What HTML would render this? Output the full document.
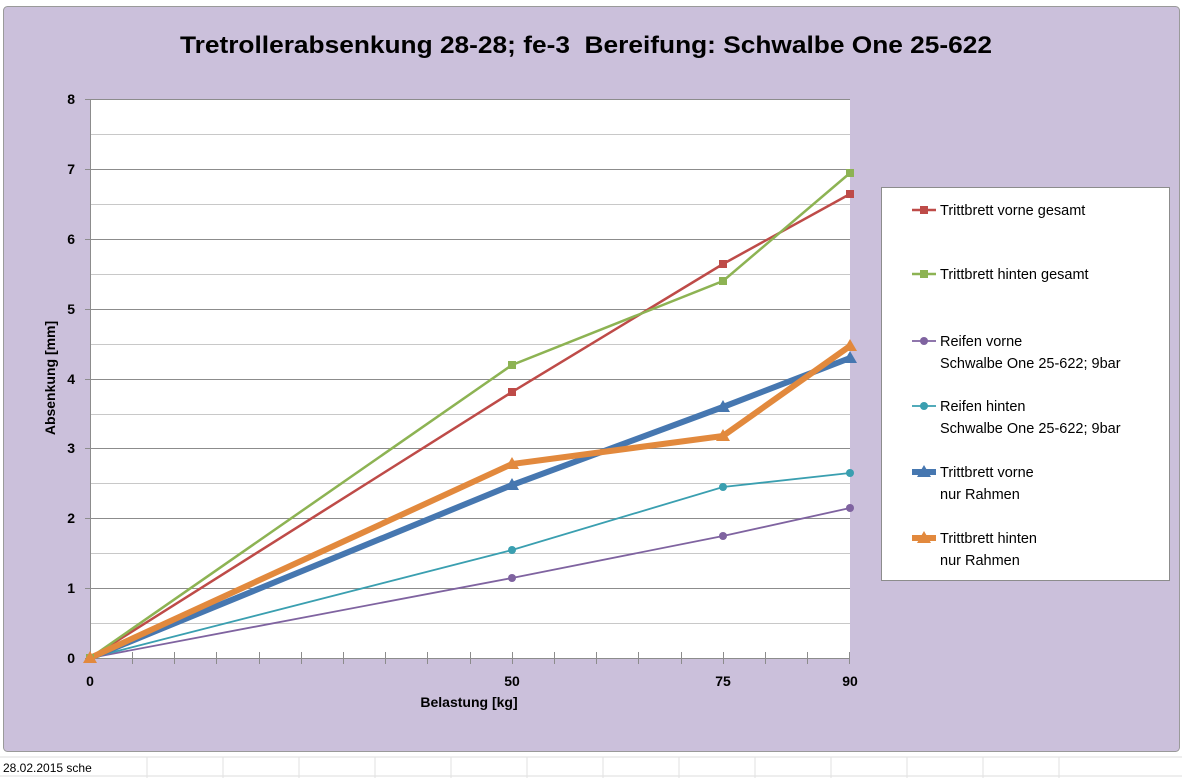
<!DOCTYPE html>
<html><head><meta charset="utf-8"><style>
body{margin:0;width:1182px;height:778px;background:#fff;overflow:hidden;font-family:"Liberation Sans",sans-serif}
</style></head><body>
<svg width="1182" height="778" xmlns="http://www.w3.org/2000/svg" font-family="Liberation Sans, sans-serif">
<rect x="0" y="0" width="1182" height="778" fill="#fff"/>
<line x1="0" y1="757" x2="1182" y2="757" stroke="#ddd"/>
<line x1="0" y1="776" x2="1182" y2="776" stroke="#ddd"/>
<g stroke="#e2e2e2"><line x1="147" y1="757" x2="147" y2="778"/><line x1="223" y1="757" x2="223" y2="778"/><line x1="299" y1="757" x2="299" y2="778"/><line x1="375" y1="757" x2="375" y2="778"/><line x1="451" y1="757" x2="451" y2="778"/><line x1="527" y1="757" x2="527" y2="778"/><line x1="603" y1="757" x2="603" y2="778"/><line x1="679" y1="757" x2="679" y2="778"/><line x1="755" y1="757" x2="755" y2="778"/><line x1="831" y1="757" x2="831" y2="778"/><line x1="907" y1="757" x2="907" y2="778"/><line x1="983" y1="757" x2="983" y2="778"/><line x1="1059" y1="757" x2="1059" y2="778"/></g>
<text x="3" y="772" font-size="12" fill="#000">28.02.2015 sche</text>
<rect x="3.5" y="6.5" width="1176" height="745" rx="4" fill="#cbc0db" stroke="#9a9a9a"/>
<text x="180" y="53" font-size="24" font-weight="bold" fill="#000" textLength="812" lengthAdjust="spacingAndGlyphs">Tretrollerabsenkung 28-28; fe-3&#160; Bereifung: Schwalbe One 25-622</text>
<rect x="90" y="99" width="760" height="559" fill="#fff"/>
<g stroke="#8c8c8c" stroke-width="1">
<line x1="90" y1="99.5" x2="850" y2="99.5"/><line x1="90" y1="169.5" x2="850" y2="169.5"/><line x1="90" y1="239.5" x2="850" y2="239.5"/><line x1="90" y1="309.5" x2="850" y2="309.5"/><line x1="90" y1="379.5" x2="850" y2="379.5"/><line x1="90" y1="448.5" x2="850" y2="448.5"/><line x1="90" y1="518.5" x2="850" y2="518.5"/><line x1="90" y1="588.5" x2="850" y2="588.5"/>
</g>
<g stroke="#c8c8c8"><line x1="90" y1="134.5" x2="850" y2="134.5"/><line x1="90" y1="204.5" x2="850" y2="204.5"/><line x1="90" y1="274.5" x2="850" y2="274.5"/><line x1="90" y1="344.5" x2="850" y2="344.5"/><line x1="90" y1="414.5" x2="850" y2="414.5"/><line x1="90" y1="483.5" x2="850" y2="483.5"/><line x1="90" y1="553.5" x2="850" y2="553.5"/><line x1="90" y1="623.5" x2="850" y2="623.5"/></g>
<g stroke="#8c8c8c">
<line x1="90.5" y1="99" x2="90.5" y2="658"/><line x1="90" y1="658.5" x2="850" y2="658.5"/>
<line x1="85" y1="99.5" x2="90" y2="99.5"/><line x1="85" y1="169.5" x2="90" y2="169.5"/><line x1="85" y1="239.5" x2="90" y2="239.5"/><line x1="85" y1="309.5" x2="90" y2="309.5"/><line x1="85" y1="379.5" x2="90" y2="379.5"/><line x1="85" y1="448.5" x2="90" y2="448.5"/><line x1="85" y1="518.5" x2="90" y2="518.5"/><line x1="85" y1="588.5" x2="90" y2="588.5"/><line x1="85" y1="658.5" x2="90" y2="658.5"/>
<line x1="132.5" y1="652" x2="132.5" y2="664"/><line x1="174.5" y1="652" x2="174.5" y2="664"/><line x1="216.5" y1="652" x2="216.5" y2="664"/><line x1="259.5" y1="652" x2="259.5" y2="664"/><line x1="301.5" y1="652" x2="301.5" y2="664"/><line x1="343.5" y1="652" x2="343.5" y2="664"/><line x1="385.5" y1="652" x2="385.5" y2="664"/><line x1="427.5" y1="652" x2="427.5" y2="664"/><line x1="470.5" y1="652" x2="470.5" y2="664"/><line x1="512.5" y1="652" x2="512.5" y2="664"/><line x1="554.5" y1="652" x2="554.5" y2="664"/><line x1="596.5" y1="652" x2="596.5" y2="664"/><line x1="638.5" y1="652" x2="638.5" y2="664"/><line x1="681.5" y1="652" x2="681.5" y2="664"/><line x1="723.5" y1="652" x2="723.5" y2="664"/><line x1="765.5" y1="652" x2="765.5" y2="664"/><line x1="807.5" y1="652" x2="807.5" y2="664"/><line x1="849.5" y1="652" x2="849.5" y2="664"/>
</g>
<g font-size="14" font-weight="bold" text-anchor="end" fill="#000">
<text x="75" y="104">8</text><text x="75" y="174">7</text><text x="75" y="244">6</text><text x="75" y="314">5</text><text x="75" y="384">4</text><text x="75" y="453">3</text><text x="75" y="523">2</text><text x="75" y="593">1</text><text x="75" y="663">0</text>
</g>
<g font-size="14" font-weight="bold" text-anchor="middle" fill="#000">
<text x="90" y="686">0</text><text x="512" y="686">50</text><text x="723" y="686">75</text><text x="850" y="686">90</text>
<text x="469" y="707">Belastung [kg]</text>
<text transform="translate(55,378) rotate(-90)">Absenkung [mm]</text>
</g>
<polyline points="90,658 512,392 723,264 850,194" fill="none" stroke="#be4b48" stroke-width="2.5"/>
<polyline points="90,658 512,365 723,281 850,173" fill="none" stroke="#8db353" stroke-width="2.5"/>
<polyline points="90,658 512,578 723,536 850,508" fill="none" stroke="#7f63a0" stroke-width="1.8"/>
<polyline points="90,658 512,550 723,487 850,473" fill="none" stroke="#3a9fb0" stroke-width="1.8"/>
<polyline points="90,658 512,485 723,407 850,358" fill="none" stroke="#4677b0" stroke-width="6"/>
<polyline points="90,658 512,464 723,436 850,346" fill="none" stroke="#e2893d" stroke-width="6"/>
<g fill="#be4b48"><rect x="86" y="654" width="8" height="8"/><rect x="508" y="388" width="8" height="8"/><rect x="719" y="260" width="8" height="8"/><rect x="846" y="190" width="8" height="8"/></g>
<g fill="#8db353"><rect x="86" y="654" width="8" height="8"/><rect x="508" y="361" width="8" height="8"/><rect x="719" y="277" width="8" height="8"/><rect x="846" y="169" width="8" height="8"/></g>
<g fill="#7f63a0"><circle cx="512" cy="578" r="4"/><circle cx="723" cy="536" r="4"/><circle cx="850" cy="508" r="4"/></g>
<g fill="#3a9fb0"><circle cx="512" cy="550" r="4"/><circle cx="723" cy="487" r="4"/><circle cx="850" cy="473" r="4"/></g>
<g fill="#4677b0"><path d="M512,478 l7,12 h-14z"/><path d="M723,400 l7,12 h-14z"/><path d="M850,351 l7,12 h-14z"/></g>
<g fill="#e2893d"><path d="M90,651 l7,12 h-14z"/><path d="M512,457 l7,12 h-14z"/><path d="M723,429 l7,12 h-14z"/><path d="M850,339 l7,12 h-14z"/></g>
<rect x="881.5" y="187.5" width="288" height="393" fill="#fff" stroke="#8c8c8c"/>
<g font-size="14.5" fill="#000">
<line x1="912" y1="210" x2="936" y2="210" stroke="#be4b48" stroke-width="2.5"/><rect x="920" y="206" width="8" height="8" fill="#be4b48"/>
<text x="940" y="215">Trittbrett vorne gesamt</text>
<line x1="912" y1="274" x2="936" y2="274" stroke="#8db353" stroke-width="2.5"/><rect x="920" y="270" width="8" height="8" fill="#8db353"/>
<text x="940" y="279">Trittbrett hinten gesamt</text>
<line x1="912" y1="341" x2="936" y2="341" stroke="#7f63a0" stroke-width="1.8"/><circle cx="924" cy="341" r="4" fill="#7f63a0"/>
<text x="940" y="346">Reifen vorne</text><text x="940" y="368">Schwalbe One 25-622; 9bar</text>
<line x1="912" y1="406" x2="936" y2="406" stroke="#3a9fb0" stroke-width="1.8"/><circle cx="924" cy="406" r="4" fill="#3a9fb0"/>
<text x="940" y="411">Reifen hinten</text><text x="940" y="433">Schwalbe One 25-622; 9bar</text>
<line x1="912" y1="472" x2="936" y2="472" stroke="#4677b0" stroke-width="6"/><path d="M924,465 l7,12 h-14z" fill="#4677b0"/>
<text x="940" y="477">Trittbrett vorne</text><text x="940" y="499">nur Rahmen</text>
<line x1="912" y1="538" x2="936" y2="538" stroke="#e2893d" stroke-width="6"/><path d="M924,531 l7,12 h-14z" fill="#e2893d"/>
<text x="940" y="543">Trittbrett hinten</text><text x="940" y="565">nur Rahmen</text>
</g>
</svg>
</body></html>
